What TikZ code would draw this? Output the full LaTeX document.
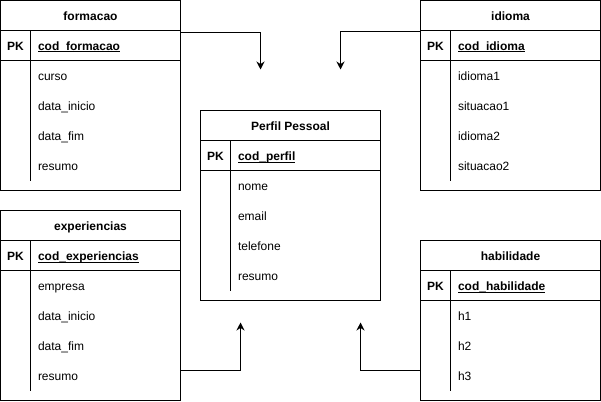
\documentclass[tikz,border=0pt]{standalone}
\usepackage{fontspec}
\setmainfont{Liberation Sans}
\usetikzlibrary{positioning}
\usetikzlibrary{arrows.meta}

\newcommand{\sublinhado}[1]{\setbox0\hbox{#1}\rlap{\vrule height -1pt depth 2pt width \wd0}\box0}

\begin{document}
\fontsize{12}{14}\selectfont
\begin{tikzpicture}[x=1pt, y=-1pt, node distance=20pt, line width=1pt, >={Stealth[length=8pt, width=8pt]},
    every node/.style={outer sep=0pt},
    tabela/.style={rectangle, draw, anchor=north west, minimum width=180pt, minimum height=190pt, inner sep=0pt},
    titulo/.style={rectangle, draw, minimum width=180pt, minimum height=30pt, inner sep=0pt, text height=10pt, text depth=0pt, font=\bfseries},
    pk/.style={minimum width=30pt, minimum height=30pt, inner sep=0pt, text height=10pt, text depth=0pt, font=\bfseries},
    campo/.style={text width=130pt, align=left, inner sep=0pt, text height=10pt, text depth=0pt},
    chave/.style={campo, font=\bfseries}]
    \useasboundingbox (-0.5,-0.5) rectangle (600.5,400.5);

    % Tabelas
    \node (formacao) [tabela] at (0,0) {};
    \node (formacao titulo) [titulo, below=0pt of formacao.north] {formacao};
    \node (formacao pk) [pk, below right=0pt and 0pt of formacao titulo.south west] {PK};
    \node (formacao chave) [chave, right=7.5pt of formacao pk] {\sublinhado{cod\_formacao}};
    \node (formacao f1) [campo, below=of formacao chave] {curso};
    \node (formacao f2) [campo, below=of formacao f1] {data\_inicio};
    \node (formacao f3) [campo, below=of formacao f2] {data\_fim};
    \node (formacao f4) [campo, below=of formacao f3] {resumo};
    \draw (formacao pk.south west) -- (formacao pk.south west -| formacao.east);
    \draw (formacao pk.north east) -- ++(0,150);

    \node (idioma) [tabela] at (420,0) {};
    \node (idioma titulo) [titulo, below=0pt of idioma.north] {idioma};
    \node (idioma pk) [pk, below right=0pt and 0pt of idioma titulo.south west] {PK};
    \node (idioma chave) [chave, right=7.5pt of idioma pk] {\sublinhado{cod\_idioma}};
    \node (idioma f1) [campo, below=of idioma chave] {idioma1};
    \node (idioma f2) [campo, below=of idioma f1] {situacao1};
    \node (idioma f3) [campo, below=of idioma f2] {idioma2};
    \node (idioma f4) [campo, below=of idioma f3] {situacao2};
    \draw (idioma pk.south west) -- (idioma pk.south west -| idioma.east);
    \draw (idioma pk.north east) -- ++(0,150);

    \node (perfil) [tabela] at (200,110) {};
    \node (perfil titulo) [titulo, below=0pt of perfil.north] {Perfil Pessoal};
    \node (perfil pk) [pk, below right=0pt and 0pt of perfil titulo.south west] {PK};
    \node (perfil chave) [chave, right=7.5pt of perfil pk] {\sublinhado{cod\_perfil}};
    \node (perfil f1) [campo, below=of perfil chave] {nome};
    \node (perfil f2) [campo, below=of perfil f1] {email};
    \node (perfil f3) [campo, below=of perfil f2] {telefone};
    \node (perfil f4) [campo, below=of perfil f3] {resumo};
    \draw (perfil pk.south west) -- (perfil pk.south west -| perfil.east);
    \draw (perfil pk.north east) -- ++(0,150);

    \node (experiencias) [tabela] at (0,210) {};
    \node (experiencias titulo) [titulo, below=0pt of experiencias.north] {experiencias};
    \node (experiencias pk) [pk, below right=0pt and 0pt of experiencias titulo.south west] {PK};
    \node (experiencias chave) [chave, right=7.5pt of experiencias pk] {\sublinhado{cod\_experiencias}};
    \node (experiencias f1) [campo, below=of experiencias chave] {empresa};
    \node (experiencias f2) [campo, below=of experiencias f1] {data\_inicio};
    \node (experiencias f3) [campo, below=of experiencias f2] {data\_fim};
    \node (experiencias f4) [campo, below=of experiencias f3] {resumo};
    \draw (experiencias pk.south west) -- (experiencias pk.south west -| experiencias.east);
    \draw (experiencias pk.north east) -- ++(0,150);

    \node (habilidade) [tabela, minimum height=160pt] at (420,240) {};
    \node (habilidade titulo) [titulo, below=0pt of habilidade.north] {habilidade};
    \node (habilidade pk) [pk, below right=0pt and 0pt of habilidade titulo.south west] {PK};
    \node (habilidade chave) [chave, right=7.5pt of habilidade pk] {\sublinhado{cod\_habilidade}};
    \node (habilidade f1) [campo, below=of habilidade chave] {h1};
    \node (habilidade f2) [campo, below=of habilidade f1] {h2};
    \node (habilidade f3) [campo, below=of habilidade f2] {h3};
    \draw (habilidade pk.south west) -- (habilidade pk.south west -| habilidade.east);
    \draw (habilidade pk.north east) -- ++(0,120);

    % Setas
    \coordinate (ponta formacao) at (260,69);
    \coordinate (ponta idioma) at (340,69);
    \coordinate (ponta experiencias) at (240,322);
    \coordinate (ponta habilidade) at (360,322);
    \draw[->] ([yshift=-32pt]formacao.north east) -| (ponta formacao);
    \draw[->] ([yshift=-31pt]idioma.north west) -| (ponta idioma);
    \draw[->] ([yshift=-160pt]experiencias.north east) -| (ponta experiencias);
    \draw[->] ([yshift=-130pt]habilidade.north west) -| (ponta habilidade);
\end{tikzpicture}
\end{document}
